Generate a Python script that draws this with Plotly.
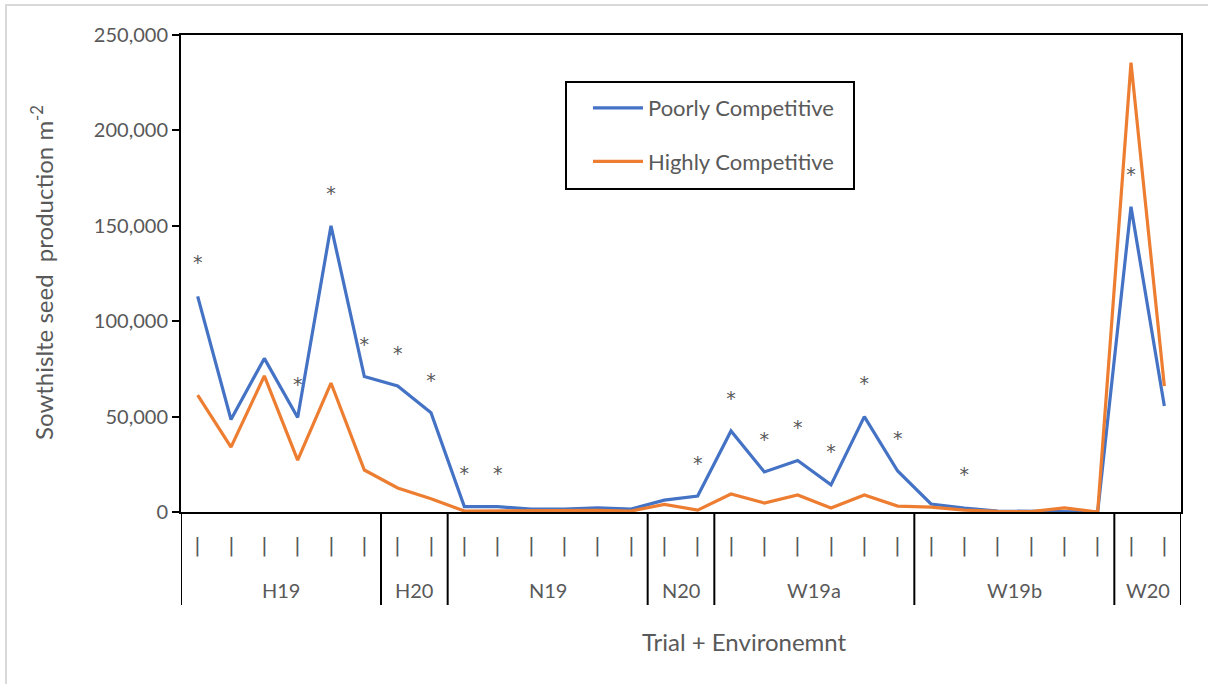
import plotly.graph_objects as go

# Trial/environment groups and the number of plots in each
groups = ["H19", "H20", "N19", "N20", "W19a", "W19b", "W20"]
group_sizes = [6, 2, 6, 2, 6, 6, 2]

# Sowthistle seed production (seeds m-2) per plot
poorly_competitive = [
    113000, 48500, 80500, 49500, 150000, 71000,
    66000, 52000,
    2800, 2800, 1500, 1500, 2200, 1500,
    6200, 8400,
    42500, 21000, 27000, 14200, 50000, 21500,
    4200, 2000, 500, 200, 300, 0,
    160000, 55500,
]
highly_competitive = [
    61300, 34000, 71300, 27200, 67600, 22000,
    12600, 7000,
    500, 600, 700, 600, 900, 500,
    4000, 1000,
    9400, 4700, 8900, 2100, 8900, 3100,
    2600, 1000, 300, 200, 2200, 0,
    235500, 66000,
]

# Plots with a significant difference between the two cultivar types
significant_idx = [0, 3, 4, 5, 6, 7, 8, 9, 15, 16, 17, 18, 19, 20, 21, 23, 28]
star_heights = [130000, 66000, 166000, 87000, 82000, 68000, 19500, 19500, 24700,
                58700, 37200, 43500, 31000, 66600, 37800, 19000, 176000]

tick_values = [0, 50000, 100000, 150000, 200000, 250000]
tick_labels = ["0", "50,000", "100,000", "150,000", "200,000", "250,000"]

FONT = "Lato, 'Open Sans', sans-serif"
MARK_FONT = "'DejaVu Sans', sans-serif"
GREY = "#595959"
BLUE = "#4472C4"
ORANGE = "#ED7D31"

x = list(range(len(poorly_competitive)))

# plot-area geometry in pixels, used to place decorations in paper units
L, R, T, B = 181, 1181, 35, 512
W, H = R - L, B - T


def px_x(px):
    return (px - L) / W


def px_y(py):
    return (B - py) / H


fig = go.Figure()
fig.add_trace(go.Scatter(
    x=x, y=poorly_competitive, mode="lines", name="Poorly Competitive",
    line=dict(color=BLUE, width=3.2), legendgroup="a",
))
fig.add_trace(go.Scatter(
    x=x, y=highly_competitive, mode="lines", name="Highly Competitive",
    line=dict(color=ORANGE, width=3.2), legendgroup="b",
))
fig.add_trace(go.Scatter(
    x=significant_idx, y=star_heights, mode="text", text=["*"] * len(significant_idx),
    textposition="middle center", textfont=dict(family=MARK_FONT, size=19, color=GREY),
    showlegend=False, hoverinfo="skip",
))

shapes = []
annotations = []

# category group dividers and labels under the axis
edges = [-0.5]
for n in group_sizes:
    edges.append(edges[-1] + n)
for e in edges:
    shapes.append(dict(type="line", xref="x", yref="paper", x0=e, x1=e,
                       y0=0, y1=px_y(605), line=dict(color="black", width=2)))
for g, a, b in zip(groups, edges[:-1], edges[1:]):
    annotations.append(dict(text=g, xref="x", yref="paper", x=(a + b) / 2, y=px_y(590),
                            showarrow=False, yanchor="middle",
                            font=dict(family=FONT, size=20, color=GREY)))
for xi in x:
    annotations.append(dict(text="|", xref="x", yref="paper", x=xi, y=px_y(545),
                            showarrow=False, yanchor="middle",
                            font=dict(family=MARK_FONT, size=20, color=GREY)))

annotations.append(dict(text="Trial + Environemnt", xref="paper", yref="paper",
                        x=px_x(744), y=px_y(641), showarrow=False, yanchor="middle",
                        font=dict(family=FONT, size=24, color=GREY)))
annotations.append(dict(text="Sowthislte seed  production m<sup>-2</sup>", xref="paper",
                        yref="paper", x=px_x(42), y=px_y(273), showarrow=False,
                        textangle=-90, xanchor="center", yanchor="middle",
                        font=dict(family=FONT, size=24, color=GREY)))

# legend frame
shapes.append(dict(type="rect", xref="paper", yref="paper",
                   x0=px_x(566), x1=px_x(854), y0=px_y(189), y1=px_y(82),
                   line=dict(color="black", width=2), fillcolor="rgba(0,0,0,0)"))
# outer chart border
shapes.append(dict(type="rect", xref="paper", yref="paper",
                   x0=px_x(6), x1=px_x(1230), y0=px_y(720), y1=px_y(5),
                   line=dict(color="#D9D9D9", width=2), fillcolor="rgba(0,0,0,0)",
                   layer="below"))

fig.update_layout(
    width=1208, height=684,
    margin=dict(l=L, r=1208 - R, t=T, b=684 - B),
    paper_bgcolor="white", plot_bgcolor="white",
    font=dict(family=FONT, color=GREY),
    showlegend=True,
    legend=dict(x=px_x(588), y=px_y(87), xanchor="left", yanchor="top",
                bgcolor="rgba(0,0,0,0)", borderwidth=0, traceorder="grouped",
                tracegroupgap=22, font=dict(family=FONT, size=22, color=GREY),
                itemwidth=50),
    xaxis=dict(range=[-0.5, 29.5], showticklabels=False, ticks="", showgrid=False,
               zeroline=False, showline=True, linecolor="black", linewidth=2, mirror=True),
    yaxis=dict(range=[0, 250000], tickvals=tick_values, ticktext=tick_labels,
               ticks="outside", ticklen=7, tickwidth=2, tickcolor="black",
               tickfont=dict(family=FONT, size=20, color=GREY), showgrid=False,
               zeroline=False, showline=True, linecolor="black", linewidth=2, mirror=True),
    shapes=shapes,
    annotations=annotations,
)

fig.write_html("out.html")
